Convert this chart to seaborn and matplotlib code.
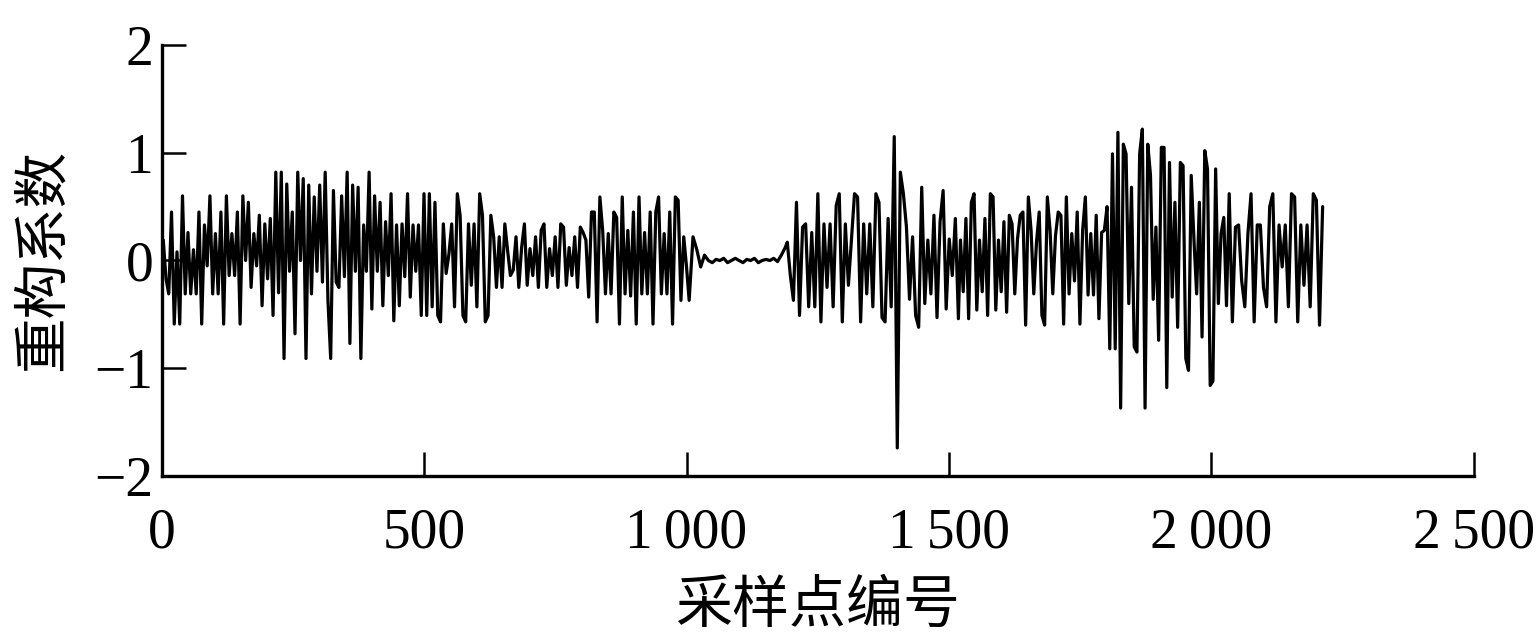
import numpy as np
import pandas as pd
import matplotlib
matplotlib.use("Agg")
import matplotlib.pyplot as plt
import seaborn as sns

# values, segment by segment (sample index ranges)
seg_bounds = [(3, 505), (510, 1000), (1005, 1188), (1192, 1518), (1522, 2034), (2040, 2212)]

seg_a = [0.19, -0.17, -0.31, 0.45, -0.59, 0.08, -0.59, 0.60, -0.31, 0.26, -0.31, 0.10, -0.31, 0.45,
         -0.59, 0.33, -0.05, 0.60, -0.31, 0.25, -0.31, 0.45, -0.59, 0.60, -0.14, 0.25, -0.14, 0.45,
         -0.59, 0.60, 0.0, 0.54, -0.25, 0.25, -0.05, 0.42, -0.42, 0.34, -0.17, 0.39, -0.51, 0.82,
         -0.30, 0.82, -0.91, 0.71, -0.10, 0.45, -0.68, 0.82, 0.0, 0.76, -0.91, 0.70, -0.31, 0.59,
         -0.10, 0.70, -0.20, 0.82, -0.37, -0.91, 0.65, -0.20, -0.25, 0.60, -0.15, 0.82, -0.77, 0.70,
         -0.10, 0.68, -0.91, 0.33, -0.10, 0.82, -0.45, 0.60, -0.10, 0.54, -0.42, 0.36, -0.14, 0.62,
         -0.56, 0.33, -0.42, 0.34, -0.15, 0.62, -0.34, 0.33, -0.10, 0.33, -0.51, 0.62, -0.51]

seg_b = [0.62, -0.43, 0.54, -0.51, -0.57, 0.34, -0.12, 0.06, 0.34, -0.43, 0.62, 0.42, -0.51, -0.57,
         0.34, -0.23, 0.34, -0.43, 0.62, 0.42, -0.57, -0.51, 0.42, 0.22, -0.25, 0.22, -0.25, 0.34,
         0.09, -0.14, -0.09, 0.22, -0.25, 0.12, 0.34, -0.23, 0.11, -0.14, 0.22, -0.25, 0.28, 0.34,
         -0.25, 0.11, -0.14, 0.22, -0.25, 0.34, 0.31, -0.23, 0.12, -0.14, 0.22, -0.25, 0.31, 0.26,
         0.19, -0.34, 0.45, 0.45, -0.57, 0.59, 0.28, -0.31, 0.25, -0.31, 0.45, 0.40, -0.59, 0.59,
         -0.31, 0.28, -0.33, 0.45, -0.59, 0.59, -0.31, 0.26, -0.31, 0.45, -0.59, 0.45, 0.59, -0.31,
         0.25, -0.31, 0.45, -0.59, 0.59, 0.56, -0.37, 0.22, -0.06]

seg_q = [-0.37, 0.22, 0.10, -0.06, 0.05, 0.0, -0.02, 0.01, 0.0, 0.02, -0.02, 0.0, 0.02, 0.0,
         -0.02, 0.01, 0.0, 0.02, -0.02, 0.0, 0.01, 0.0, 0.02, -0.01, 0.05, 0.12]

seg_c = [0.17, -0.14, -0.37, 0.54, -0.51, 0.31, 0.34, -0.43, 0.26, -0.43, 0.62, -0.57, 0.34, -0.25,
         0.34, -0.43, 0.51, 0.62, -0.57, 0.34, -0.23, 0.19, 0.62, 0.59, -0.57, 0.34, -0.31, 0.34,
         -0.43, 0.62, 0.54, -0.53, -0.57, 0.39, -0.43, 1.15, -1.74, 0.82, 0.62, 0.31, -0.36, 0.22,
         -0.51, -0.62, 0.68, -0.40, 0.19, -0.31, 0.42, -0.53, 0.36, 0.65, -0.45, 0.20, -0.14, 0.39,
         -0.54]

seg_d = [0.19, -0.29, 0.39, -0.54, 0.54, 0.62, -0.46, 0.19, -0.29, 0.39, -0.51, 0.62, 0.59, -0.46,
         0.19, -0.29, 0.36, -0.48, 0.42, 0.34, -0.31, 0.20, 0.42, 0.45, -0.60, 0.59, 0.28, -0.31,
         0.17, 0.45, -0.51, -0.60, 0.59, 0.28, -0.31, 0.23, 0.45, 0.42, -0.59, 0.59, -0.31, 0.25,
         -0.19, 0.45, -0.59, 0.28, 0.59, -0.32, 0.25, -0.32, 0.42, -0.54, 0.26, 0.28, 0.50, -0.82,
         0.99, -0.82, 1.19, -1.37, 1.08, 0.99, -0.40, 0.68, -0.80, -0.85, 0.99, 1.22, -1.37, 1.08,
         0.79, -0.36, 0.31, -0.74, 1.05, 1.05, -1.18, 0.91, -0.34, 0.54, -0.62, 0.91, 0.88, -0.91,
         -1.02, 0.79, 0.20, -0.31, 0.54, -0.71, 1.02, 0.85, -1.16, -1.12, 0.85, -0.40, 0.25, 0.40,
         -0.42, 0.62]

seg_e = [-0.57, 0.31, 0.33, -0.19, -0.43, 0.25, 0.62, -0.57, 0.33, 0.33, -0.25, -0.43, 0.50, 0.62,
         -0.57, 0.33, -0.06, 0.33, -0.43, 0.62, 0.59, -0.57, 0.33, -0.23, 0.33, -0.43, 0.62, 0.56,
         -0.60, 0.50]

x_ticks = [0, 500, 1000, 1500, 2000, 2500]
x_tick_labels = ["0", "500", "1\u2009000", "1\u2009500", "2\u2009000", "2\u2009500"]
y_ticks = [-2, -1, 0, 1, 2]
x_label = "采样点编号"
y_label = "重构系数"

segments = [seg_a, seg_b, seg_q, seg_c, seg_d, seg_e]
xs, ys = [], []
for (s0, s1), seg in zip(seg_bounds, segments):
    xs.extend(np.linspace(s0, s1, len(seg)))
    ys.extend(seg)
df = pd.DataFrame({"idx": xs, "val": ys})

sns.set_style("ticks")
plt.rcParams["font.family"] = ["Liberation Serif", "DejaVu Serif"]
cjk = ["Noto Sans CJK SC", "DejaVu Sans"]

fig = plt.figure(figsize=(15.4, 6.44), dpi=100)
ax = fig.add_axes([0.105, 0.261, 0.852, 0.669])
sns.lineplot(data=df, x="idx", y="val", sort=False, estimator=None,
             color="black", linewidth=2.3, ax=ax)

ax.set_xlim(0, 2500)
ax.set_ylim(-2, 2)
ax.set_xticks(x_ticks)
ax.set_xticklabels(x_tick_labels)
ax.set_yticks(y_ticks)
ax.tick_params(direction="in", length=17, width=1.8, labelsize=40, colors="black")
ax.tick_params(axis="x", pad=23)
ax.tick_params(axis="y", pad=6)
for s in ["top", "right"]:
    ax.spines[s].set_visible(False)
for s in ["left", "bottom"]:
    ax.spines[s].set_linewidth(2.4)
    ax.spines[s].set_color("black")

ax.set_xlabel(x_label, family=cjk, fontsize=41, labelpad=12, color="black")
ax.set_ylabel(y_label, family=cjk, fontsize=40, labelpad=16, color="black")

plt.savefig("out.png", dpi=100)
plt.close()
